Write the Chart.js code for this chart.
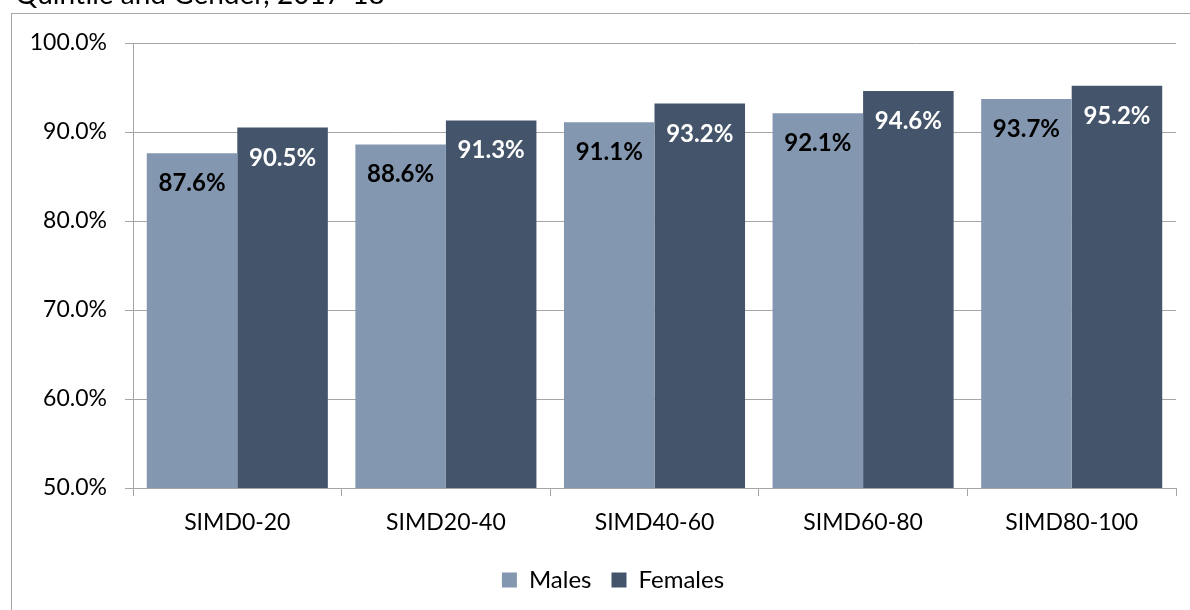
<!DOCTYPE html>
<html><head><meta charset="utf-8">
<script src="https://cdn.jsdelivr.net/npm/chart.js@4"></script>
<style>html,body{margin:0;padding:0;background:#fff;overflow:hidden;width:1190px;height:610px}canvas{display:block}</style>
</head><body>
<canvas id="c" width="1226" height="610"></canvas>
<script>
const titleText = 'Quintile and Gender, 2017-18';
const categories = ['SIMD0-20', 'SIMD20-40', 'SIMD40-60', 'SIMD60-80', 'SIMD80-100'];
const seriesNames = ['Males', 'Females'];
const males = [87.6, 88.6, 91.1, 92.1, 93.7];
const females = [90.5, 91.3, 93.2, 94.6, 95.2];
const yMin = 50, yMax = 100, yStep = 10;

const FONT = 'Lato, "Open Sans", sans-serif';
const GRID = '#a6a6a6';

const framePlugin = {
  id: 'frame',
  beforeDraw(chart) {
    const ctx = chart.ctx;
    ctx.save();
    ctx.fillStyle = '#fff';
    ctx.fillRect(0, 0, chart.width, chart.height);
    ctx.strokeStyle = GRID;
    ctx.lineWidth = 1;
    ctx.strokeRect(11.5, 13.5, 1400, 1000);
    ctx.fillStyle = '#000';
    ctx.font = '28px ' + FONT;
    ctx.textBaseline = 'alphabetic';
    ctx.textAlign = 'left';
    ctx.fillText(titleText, 15, 4);
    ctx.restore();
  }
};

const labelPlugin = {
  id: 'barLabels',
  afterDatasetsDraw(chart) {
    const ctx = chart.ctx;
    ctx.save();
    ctx.font = 'bold 24px ' + FONT;
    ctx.textAlign = 'center';
    ctx.textBaseline = 'alphabetic';
    chart.data.datasets.forEach((ds, di) => {
      const meta = chart.getDatasetMeta(di);
      ctx.fillStyle = di === 0 ? '#000' : '#fff';
      meta.data.forEach((bar, i) => {
        ctx.fillText(ds.data[i].toFixed(1) + '%', bar.x, bar.y + 38);
      });
    });
    ctx.restore();
  }
};

function start() {
  new Chart(document.getElementById('c'), {
    type: 'bar',
    data: {
      labels: categories,
      datasets: [
        { label: seriesNames[0], data: males, backgroundColor: '#8497B0' },
        { label: seriesNames[1], data: females, backgroundColor: '#44546A' }
      ]
    },
    options: {
      responsive: false,
      animation: false,
      events: [],
      layout: { padding: { left: 0, right: 0, top: 43, bottom: 8 } },
      datasets: { bar: { categoryPercentage: 0.868, barPercentage: 1.0 } },
      scales: {
        x: {
          afterFit(s) { s.height = 60; },
          grid: { offset: true, drawOnChartArea: false, drawTicks: true, tickLength: 8, color: GRID },
          border: { display: true, color: GRID },
          ticks: { padding: 13, color: '#000', font: { family: FONT, size: 23 } }
        },
        y: {
          min: yMin, max: yMax,
          afterFit(s) { s.width = 133; },
          grid: { color: GRID, tickLength: 8, drawTicks: true },
          border: { display: true, color: GRID },
          ticks: {
            stepSize: yStep, padding: 18, color: '#000',
            font: { family: FONT, size: 23 },
            callback: v => v.toFixed(1) + '%'
          }
        },
        yRight: {
          type: 'linear', position: 'right', display: true,
          min: yMin, max: yMax,
          afterFit(s) { s.width = 50; },
          grid: { display: false, drawTicks: false },
          border: { display: false },
          ticks: { display: false }
        }
      },
      plugins: {
        legend: {
          position: 'bottom',
          labels: { boxWidth: 15, boxHeight: 15, padding: 20, color: '#000', font: { family: FONT, size: 24 } }
        },
        title: { display: false },
        tooltip: { enabled: false }
      }
    },
    plugins: [framePlugin, labelPlugin]
  });
}
if (document.fonts && document.fonts.load) {
  Promise.all([document.fonts.load('23px Lato'), document.fonts.load('bold 24px Lato')]).then(start, start);
} else start();
</script>
</body></html>
